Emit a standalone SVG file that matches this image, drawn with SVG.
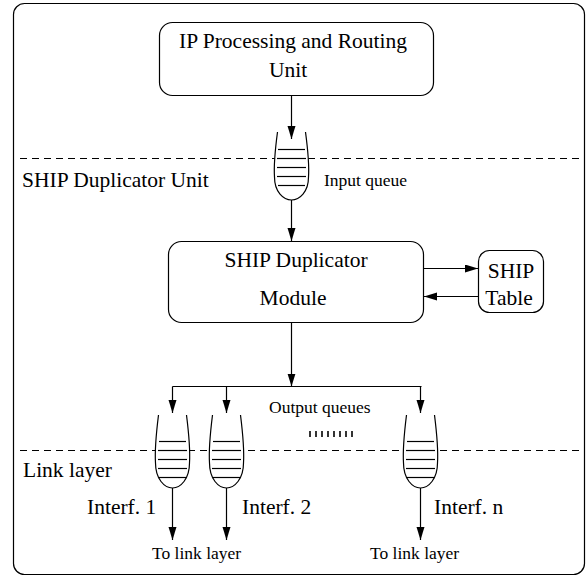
<svg xmlns="http://www.w3.org/2000/svg" width="588" height="578" viewBox="0 0 588 578">
  <style>
    .box { fill: #fff; stroke: #000; stroke-width: 1.2; }
    .frame { fill: #fff; stroke: #000; stroke-width: 1.2; }
    text { font-family: "Liberation Serif", Tinos, "Times New Roman", Times, "DejaVu Serif", serif; fill: #000; }
    .lbl { font-size: 21.5px; }
    .sm { font-size: 17.5px; }
    .mid { text-anchor: middle; }
    .wire { fill: none; stroke: #000; stroke-width: 1.2; }
    .arr { marker-end: url(#head); }
    .dash { fill: none; stroke: #000; stroke-width: 1; stroke-dasharray: 7 5; }
    .q { fill: #fff; stroke: #000; stroke-width: 1.2; }
    .slot { stroke: #000; stroke-width: 1.2; }
    .tick { stroke: #000; stroke-width: 1.6; }
  </style>
  <defs>
    <marker id="head" markerUnits="userSpaceOnUse" markerWidth="15" markerHeight="9" refX="13" refY="4" orient="auto">
      <path d="M0,0 L13,4 L0,8 z" fill="#000"/>
    </marker>
    <!-- queue outlines, top centred at 0,0 -->
    <path id="qshape" d="M-14,0 Q-18,30 -17,45 C-17,60 -8,68 0,68 C8,68 17,60 17,45 Q18,30 14,0"/>
    <path id="qshape2" d="M-14,0 Q-18,32 -17,48 C-17,64 -8,73 0,73 C8,73 17,64 17,48 Q18,32 14,0"/>
  </defs>

  <!-- outer frame -->
  <rect class="frame" x="13.5" y="3.5" width="571" height="571" rx="11"/>

  <!-- layer separators -->
  <line class="dash" x1="20" y1="158.5" x2="580" y2="158.5"/>
  <line class="dash" x1="20" y1="450.5" x2="580" y2="450.5"/>

  <!-- layer labels -->
  <text class="lbl" x="22" y="187">SHIP Duplicator Unit</text>
  <text class="lbl" x="23" y="477">Link layer</text>

  <g id="ip-unit">
    <rect class="box" x="159.5" y="22.5" width="274" height="73" rx="13"/>
    <text class="lbl mid" x="293" y="48">IP Processing and Routing</text>
    <text class="lbl mid" x="288" y="77">Unit</text>
  </g>

  <g id="input-queue">
    <use href="#qshape" class="q" transform="translate(291.5,132)"/>
    <line class="slot" x1="278" y1="149.5" x2="305" y2="149.5"/>
    <line class="slot" x1="277" y1="158.5" x2="306" y2="158.5"/>
    <line class="slot" x1="277" y1="167.5" x2="306" y2="167.5"/>
    <line class="slot" x1="277" y1="176.5" x2="306" y2="176.5"/>
    <line class="slot" x1="278" y1="185.5" x2="305" y2="185.5"/>
    <text class="sm" x="324" y="186">Input queue</text>
  </g>

  <g id="duplicator-module">
    <rect class="box" x="168.5" y="241.5" width="255" height="81" rx="13"/>
    <text class="lbl mid" x="296" y="267">SHIP Duplicator</text>
    <text class="lbl mid" x="293" y="305">Module</text>
  </g>

  <g id="ship-table">
    <rect class="box" x="478.5" y="250.5" width="65" height="62" rx="11"/>
    <text class="lbl mid" x="511" y="278">SHIP</text>
    <text class="lbl mid" x="509" y="305">Table</text>
  </g>

  <g id="output-queue-1">
    <use href="#qshape2" class="q" transform="translate(172.5,415)"/>
    <line class="slot" x1="159" y1="441.5" x2="186" y2="441.5"/>
    <line class="slot" x1="158" y1="450.5" x2="187" y2="450.5"/>
    <line class="slot" x1="158" y1="459.5" x2="187" y2="459.5"/>
    <line class="slot" x1="158" y1="468.5" x2="187" y2="468.5"/>
    <line class="slot" x1="159" y1="477.5" x2="186" y2="477.5"/>
    <text class="lbl" x="87" y="514">Interf. 1</text>
  </g>

  <g id="output-queue-2">
    <use href="#qshape2" class="q" transform="translate(226.5,415)"/>
    <line class="slot" x1="213" y1="441.5" x2="240" y2="441.5"/>
    <line class="slot" x1="212" y1="450.5" x2="241" y2="450.5"/>
    <line class="slot" x1="212" y1="459.5" x2="241" y2="459.5"/>
    <line class="slot" x1="212" y1="468.5" x2="241" y2="468.5"/>
    <line class="slot" x1="213" y1="477.5" x2="240" y2="477.5"/>
    <text class="lbl" x="242" y="514">Interf. 2</text>
  </g>

  <g id="output-queue-n">
    <use href="#qshape2" class="q" transform="translate(420.5,415)"/>
    <line class="slot" x1="407" y1="441.5" x2="434" y2="441.5"/>
    <line class="slot" x1="406" y1="450.5" x2="435" y2="450.5"/>
    <line class="slot" x1="406" y1="459.5" x2="435" y2="459.5"/>
    <line class="slot" x1="406" y1="468.5" x2="435" y2="468.5"/>
    <line class="slot" x1="407" y1="477.5" x2="434" y2="477.5"/>
    <text class="lbl" x="434" y="514">Interf. n</text>
  </g>

  <g id="output-queues-label">
    <text class="sm" x="269" y="413">Output queues</text>
    <g class="tick">
      <line x1="310" y1="431" x2="310" y2="437"/>
      <line x1="316" y1="431" x2="316" y2="437"/>
      <line x1="322" y1="431" x2="322" y2="437"/>
      <line x1="328" y1="431" x2="328" y2="437"/>
      <line x1="334" y1="431" x2="334" y2="437"/>
      <line x1="340" y1="431" x2="340" y2="437"/>
      <line x1="346" y1="431" x2="346" y2="437"/>
      <line x1="352" y1="431" x2="352" y2="437"/>
    </g>
  </g>

  <g id="link-layer-labels">
    <text class="sm" x="152" y="559">To link layer</text>
    <text class="sm" x="370" y="559">To link layer</text>
  </g>

  <g id="connectors">
    <line class="wire arr" x1="291.5" y1="95.5" x2="291.5" y2="139"/>
    <line class="wire arr" x1="291.5" y1="200" x2="291.5" y2="241"/>
    <line class="wire arr" x1="291.5" y1="322.5" x2="291.5" y2="386.5"/>
    <path class="wire" d="M172.5,386.5 H421.5"/>
    <line class="wire arr" x1="172.5" y1="386.5" x2="172.5" y2="413"/>
    <line class="wire arr" x1="226.5" y1="386.5" x2="226.5" y2="413"/>
    <line class="wire arr" x1="420.5" y1="386.5" x2="420.5" y2="413"/>
    <line class="wire arr" x1="172.5" y1="488" x2="172.5" y2="540"/>
    <line class="wire arr" x1="226.5" y1="488" x2="226.5" y2="540"/>
    <line class="wire arr" x1="420.5" y1="488" x2="420.5" y2="540"/>
    <line class="wire arr" x1="423.5" y1="268.5" x2="478" y2="268.5"/>
    <line class="wire arr" x1="478.5" y1="296.5" x2="424" y2="296.5"/>
  </g>
</svg>
